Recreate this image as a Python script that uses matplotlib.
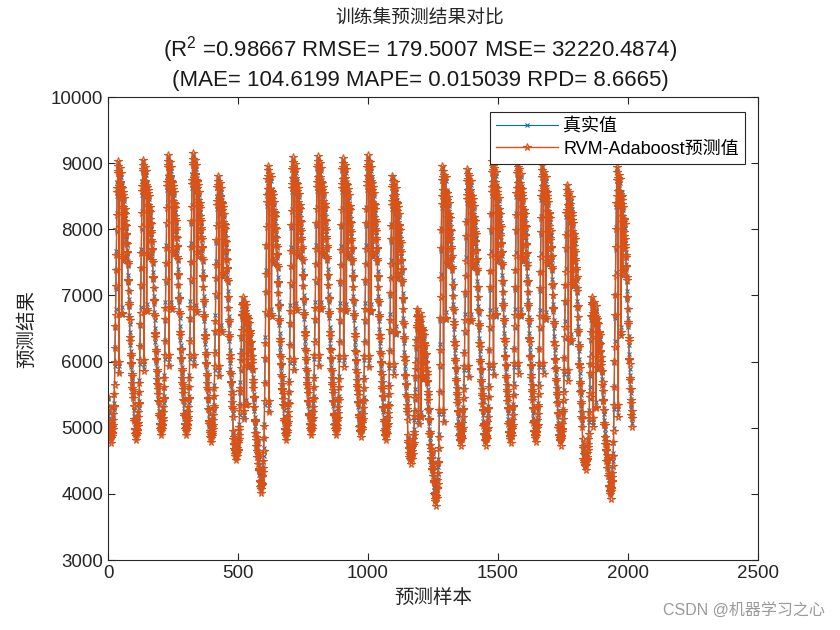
import numpy as np
import matplotlib
matplotlib.use('Agg')
import matplotlib.pyplot as plt

plt.rcParams['font.family'] = ['Liberation Sans', 'Noto Sans CJK SC']
plt.rcParams['mathtext.fontset'] = 'custom'
plt.rcParams['mathtext.rm'] = 'Liberation Sans'
plt.rcParams['mathtext.default'] = 'regular'

# One day of load (96 samples, 0 = night trough, 1 = day peak), read from one cycle
day_template = [
    0.14, 0.115, 0.09, 0.07, 0.055, 0.04, 0.03, 0.02, 0.012, 0.006, 0.002, 0.0,
    0.002, 0.006, 0.012, 0.02, 0.03, 0.04, 0.05, 0.065, 0.08, 0.10, 0.125, 0.155,
    0.20, 0.26, 0.33, 0.40, 0.47, 0.54, 0.61, 0.68, 0.75, 0.82, 0.88, 0.93,
    0.96, 0.99, 1.0, 0.97, 0.94, 0.26, 0.24, 0.91, 0.95, 0.97, 0.93, 0.90,
    0.87, 0.92, 0.95, 0.47, 0.44, 0.89, 0.92, 0.88, 0.85, 0.88, 0.66, 0.64,
    0.84, 0.86, 0.83, 0.80, 0.82, 0.78, 0.80, 0.76, 0.73, 0.75, 0.72, 0.70,
    0.68, 0.66, 0.64, 0.62,
    0.59, 0.56, 0.53, 0.50, 0.47, 0.44, 0.41, 0.38, 0.355, 0.33, 0.31, 0.29,
    0.27, 0.25, 0.23, 0.21, 0.195, 0.18, 0.165, 0.15,
]

# Daily peaks and night troughs (21 days)
day_peaks = [9000, 9020, 9090, 9120, 8780, 6930, 8940, 9060, 9080, 9050, 9090,
             8780, 6750, 8930, 8880, 9010, 8990, 8940, 8640, 6930, 8920]
day_troughs = [4850, 4890, 4965, 4965, 4860, 4590, 4090, 4890, 4965, 4965, 4940,
               4890, 4540, 3900, 4810, 4810, 4845, 4860, 4810, 4440, 4010, 4400]

# Prediction error pattern (model minus true), repeated along the series
pred_error = [40, -30, 60, -80, 20, 70, -50, 10, -40, 60, -20, 30, -90, 45, 5, -60]

# Build the series
true_vals = []
for d in range(len(day_peaks)):
    for k, f in enumerate(day_template):
        base = day_troughs[d] if k < 48 else day_troughs[d + 1]
        true_vals.append(base + f * (day_peaks[d] - base))
true_vals = np.array(true_vals)
pred_vals = true_vals + np.resize(pred_error, len(true_vals))
x = np.arange(1, len(true_vals) + 1)

blue = '#0072BD'
orange = '#D95319'

fig = plt.figure(figsize=(8.4, 6.3), dpi=100)
ax = fig.add_axes([0.1286, 0.1111, 0.7738, 0.7349])

ax.plot(x, true_vals, '-', color=blue, lw=0.8, marker='x', ms=2.2, mew=0.8, label='真实值')
ax.plot(x, pred_vals, '-', color=orange, lw=1.0, marker='*', ms=5.5, mfc='none', mew=0.8,
        label='RVM-Adaboost预测值')

ax.set_xlim(0, 2500)
ax.set_ylim(3000, 10000)
ax.set_xticks(range(0, 2501, 500))
ax.set_yticks(range(3000, 10001, 1000))
ax.tick_params(direction='in', top=True, right=True, labelsize=13.5, colors='#262626',
               length=5, width=0.8)
for s in ax.spines.values():
    s.set_color('#262626')
    s.set_linewidth(0.8)

ax.set_xlabel('预测样本', fontsize=14, family=['Noto Sans CJK SC'], color='#262626')
ax.set_ylabel('预测结果', fontsize=14, family=['Noto Sans CJK SC'], color='#262626',
              labelpad=10)

leg = ax.legend(loc='upper right', bbox_to_anchor=(0.98, 0.968), fontsize=13,
                fancybox=False, edgecolor='#262626', framealpha=1, handlelength=3.4,
                borderpad=0.35, labelspacing=0.3, handletextpad=0.3, borderaxespad=0)
leg.get_frame().set_linewidth(0.8)

fig.text(0.5, 0.972, '训练集预测结果对比', ha='center', va='center', fontsize=13.5,
         family=['Noto Sans CJK SC'], color='#262626')
fig.text(0.5, 0.921, '(R$^2$ =0.98667 RMSE= 179.5007 MSE= 32220.4874)', ha='center',
         va='center', fontsize=16, color='#1a1a1a')
fig.text(0.5, 0.873, '(MAE= 104.6199 MAPE= 0.015039 RPD= 8.6665)', ha='center',
         va='center', fontsize=16, color='#1a1a1a')

fig.text(0.982, 0.032, 'CSDN @机器学习之心', ha='right', va='center', fontsize=11.5,
         color='#9a9a9a')

fig.savefig('out.png', dpi=100)
